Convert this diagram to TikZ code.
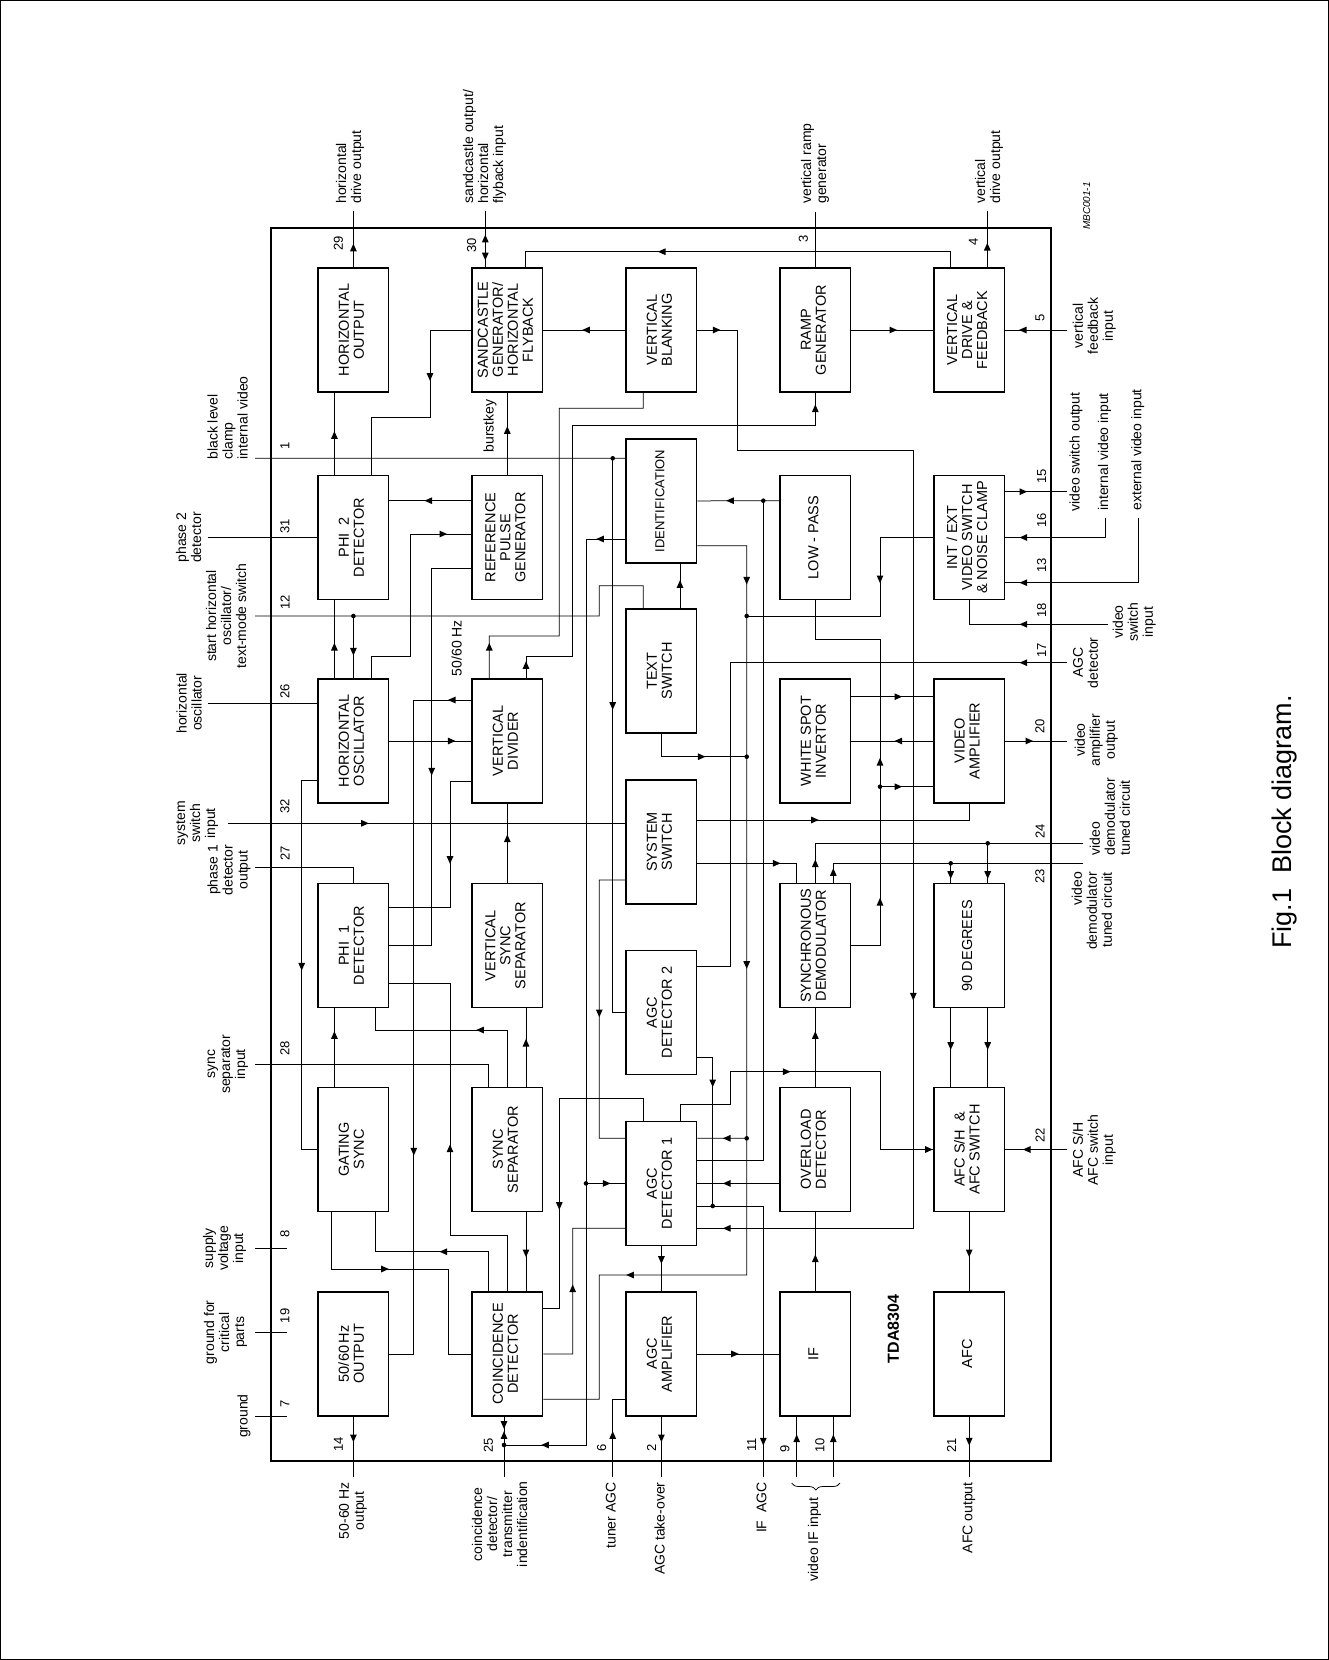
\documentclass[tikz,border=0pt]{standalone}
\usepackage{fontspec}
\setmainfont{Liberation Sans}
\usepackage{graphicx}
\usetikzlibrary{calc,decorations.pathreplacing}

% rotated (bottom-to-top) text block
\newcommand{\vt}[2][c]{\rotatebox{90}{\begin{tabular}{@{}#1@{}}#2\end{tabular}}}
% filled arrow head in the middle of a line: position, direction
\newcommand{\arr}[2]{\fill[shift={#1},rotate=#2] (3.8,0) -- (-3.8,3.4) -- (-3.8,-3.4) -- cycle;}
\newcommand{\jdot}[1]{\fill #1 circle (2.3pt);}

\begin{document}
\begin{tikzpicture}[x=1pt,y=-1pt,line width=0.75pt,
    blk/.style={draw,line width=1.3pt,minimum width=70.6pt,minimum height=124pt,
      inner sep=0pt,font=\fontsize{14.5}{15}\selectfont},
    lbl/.style={inner sep=0pt,font=\fontsize{14}{15}\selectfont},
    pinno/.style={inner sep=0pt,font=\fontsize{13}{15}\selectfont}]
    \useasboundingbox (0,0) rectangle (1329,1660);
    \draw[line width=1pt] (0.5,0.5) rectangle (1328.5,1659.5);
    % IC outline
    \draw[line width=1.6pt] (271,227.7) rectangle (1050.7,1460.7);
    \node[font=\bfseries\fontsize{16}{16}\selectfont] (chip) at (893.3,1329) {\rotatebox{90}{TDA8304}};
    \node[font=\itshape\fontsize{10}{10}\selectfont] (mbc) at (1086.7,206) {\rotatebox{90}{MBC001-1}};
    \node[font=\fontsize{27}{27}\selectfont] (caption) at (1285,822) {\rotatebox{90}{Fig.1\ \ Block diagram.}};

    % blocks, column 1
    \node[blk] (hout) at (353.4,330) {\vt{HORIZONTAL\\OUTPUT}};
    \node[blk] (phitwo) at (353.4,537.5) {\vt{PHI\ \ 2\\DETECTOR}};
    \node[blk] (hosc) at (353.4,741) {\vt{HORIZONTAL\\OSCILLATOR}};
    \node[blk] (phione) at (353.4,945.7) {\vt{PHI\ \ 1\\DETECTOR}};
    \node[blk] (gsync) at (353.4,1149.5) {\vt{GATING\\SYNC}};
    \node[blk] (hzout) at (353.4,1353.9) {\vt{50/60\,Hz\\OUTPUT}};
    % column 2
    \node[blk] (sand) at (507.3,330) {\vt{SANDCASTLE\\GENERATOR/\\HORIZONTAL\\FLYBACK}};
    \node[blk] (refp) at (507.3,537.5) {\vt{REFERENCE\\PULSE\\GENERATOR}};
    \node[blk] (vdiv) at (507.3,741) {\vt{VERTICAL\\DIVIDER}};
    \node[blk] (vsync) at (507.3,945.7) {\vt{VERTICAL\\SYNC\\SEPARATOR}};
    \node[blk] (ssep) at (507.3,1149.5) {\vt{SYNC\\SEPARATOR}};
    \node[blk] (coinc) at (507.3,1353.9) {\vt{COINCIDENCE\\DETECTOR}};
    % column 3
    \node[blk] (vblank) at (661.4,330) {\vt{VERTICAL\\BLANKING}};
    \node[blk,font=\fontsize{13}{15}\selectfont] (ident) at (661.4,500.9) {\vt{IDENTIFICATION}};
    \node[blk] (txtsw) at (661.4,671) {\vt{TEXT\\SWITCH}};
    \node[blk] (syssw) at (661.4,842) {\vt{SYSTEM\\SWITCH}};
    \node[blk] (agctwo) at (661.4,1012.4) {\vt{AGC\\DETECTOR 2}};
    \node[blk] (agcone) at (661.4,1183.4) {\vt{AGC\\DETECTOR 1}};
    \node[blk] (agcamp) at (661.4,1353.9) {\vt{AGC\\AMPLIFIER}};
    % column 4
    \node[blk] (ramp) at (815.3,330) {\vt{RAMP\\GENERATOR}};
    \node[blk] (lowp) at (815.3,537.5) {\vt{LOW - PASS}};
    \node[blk] (wspot) at (815.3,741) {\vt{WHITE SPOT\\INVERTOR}};
    \node[blk] (sdem) at (815.3,945.7) {\vt{SYNCHRONOUS\\DEMODULATOR}};
    \node[blk] (ovl) at (815.3,1149.5) {\vt{OVERLOAD\\DETECTOR}};
    \node[blk] (ifb) at (815.3,1353.9) {\vt{IF}};
    % column 5
    \node[blk] (vdrv) at (969.2,330) {\vt{VERTICAL\\DRIVE \&\\FEEDBACK}};
    \node[blk] (vsw) at (969.2,537.5) {\vt{INT / EXT\\VIDEO SWITCH\\\& NOISE CLAMP}};
    \node[blk] (vamp) at (969.2,741) {\vt{VIDEO\\AMPLIFIER}};
    \node[blk] (ninety) at (969.2,945.7) {\vt{90 DEGREES}};
    \node[blk] (afcsh) at (969.2,1149.5) {\vt{AFC S/H\ \ \&\\AFC SWITCH}};
    \node[blk] (afc) at (969.2,1353.9) {\vt{AFC}};

    % pin numbers
    \foreach \n/\x/\y in {29/338.3/243, 30/471.7/245, 3/803.3/239, 4/973.3/241.7,
        5/1040/318.3, 1/285/445.8, 31/285/526.7, 12/285/602.5, 26/285/691.7,
        32/285/806.7, 27/285/853.3, 28/285/1048.3, 8/285/1234, 19/285/1315.8,
        7/285/1404, 14/338.3/1444, 25/488.3/1445, 6/601.7/1447.5, 2/651.7/1447.5,
        11/751.7/1445, 9/785/1449, 10/820/1445, 21/951.7/1445, 15/1041.7/476.7,
        16/1041.7/520, 13/1041.7/565, 18/1041.7/610, 17/1041.7/650, 20/1040/726.7,
        24/1040/831.7, 23/1040/876.7, 22/1040/1135}
        \node[pinno] (n\n) at (\x,\y) {\rotatebox{90}{\n}};

    % pin labels, top
    \node[lbl,anchor=south] (l29) at (350.5,204) {\vt[l]{horizontal\\drive output}};
    \node[lbl,anchor=south] (l30) at (485,204) {\vt[l]{sandcastle output/\\horizontal\\flyback input}};
    \node[lbl,anchor=south] (l3) at (815.5,204) {\vt[l]{vertical ramp\\generator}};
    \node[lbl,anchor=south] (l4) at (989.5,204) {\vt[l]{vertical\\drive output}};
    % pin labels, left
    \node[lbl,anchor=south east] (l1) at (252.5,460) {\vt[l]{black level\\clamp\\internal video}};
    \node[lbl,anchor=east] (l31) at (206,537.5) {\vt{phase 2\\detector}};
    \node[lbl,anchor=east] (l12) at (251,616) {\vt{start horizontal\\oscillator/\\text-mode switch}};
    \node[lbl,anchor=east] (l26) at (206.5,703.3) {\vt{horizontal\\oscillator}};
    \node[lbl,anchor=east] (l32) at (220,823.3) {\vt{system\\switch\\input}};
    \node[lbl,anchor=east] (l27) at (252.5,870) {\vt{phase 1\\detector\\output}};
    \node[lbl,anchor=east] (l28) at (250,1064.3) {\vt{sync\\separator\\input}};
    \node[lbl,anchor=east] (l8) at (248,1248.3) {\vt{supply\\voltage\\input}};
    \node[lbl,anchor=east] (l19) at (249,1332.3) {\vt{ground for\\critical\\parts}};
    \node[lbl,anchor=east] (l7) at (252.5,1416) {\vt{ground}};
    % pin labels, right
    \node[lbl,anchor=west] (l5) at (1072,326) {\vt{vertical\\feedback\\input}};
    \node[lbl,anchor=south] (l15) at (1076.7,512) {\vt{video switch output}};
    \node[lbl,anchor=south] (l16) at (1105,511) {\vt{internal video input}};
    \node[lbl,anchor=south] (l13) at (1138.3,511) {\vt{external video input}};
    \node[lbl,anchor=west] (l18) at (1112,622) {\vt{video\\switch\\input}};
    \node[lbl,anchor=west] (l17) at (1072,662.7) {\vt{AGC\\detector}};
    \node[lbl,anchor=west] (l20) at (1074,740) {\vt{video\\amplifier\\output}};
    \node[lbl,anchor=south west] (l24) at (1089,856) {\vt[l]{video\\demodulator\\tuned circuit}};
    \node[lbl,anchor=north west] (l23) at (1071,871.7) {\vt[r]{video\\demodulator\\tuned circuit}};
    \node[lbl,anchor=west] (l22) at (1072,1150) {\vt{AFC S/H\\AFC switch\\input}};
    % pin labels, bottom
    \node[lbl,anchor=north] (l14) at (353.3,1482) {\vt{50-60 Hz\\output}};
    \node[lbl,anchor=north] (l25) at (501.5,1481) {\vt{coincidence\\detector/\\transmitter\\indentification}};
    \node[lbl,anchor=north] (l6) at (612.7,1482) {\vt{tuner AGC}};
    \node[lbl,anchor=north] (l2) at (661.7,1482) {\vt{AGC take-over}};
    \node[lbl,anchor=north] (l11) at (763.3,1482) {\vt{IF\ \ AGC}};
    \node[lbl,anchor=north] (l910) at (815,1497) {\vt{video IF input}};
    \node[lbl,anchor=north] (l21) at (969.3,1482) {\vt{AFC output}};
    % inner labels
    \node[lbl] (burst) at (490,426) {\rotatebox{90}{burstkey}};
    \node[lbl] (hz) at (456.7,648) {\rotatebox{90}{50/60 Hz}};

    % pin end points
    \coordinate (p29) at (353.4,211);
    \coordinate (p30) at (485.3,211);
    \coordinate (p3) at (815.3,211.7);
    \coordinate (p4) at (987.3,211);
    \coordinate (p5) at (1067.3,330);
    \coordinate (p1) at (255,458.3);
    \coordinate (p31) at (208.3,537.5);
    \coordinate (p12) at (255,616);
    \coordinate (p26) at (208.3,703.3);
    \coordinate (p32) at (228.3,823.3);
    \coordinate (p27) at (255,867.3);
    \coordinate (p28) at (255,1064.3);
    \coordinate (p15) at (1067.3,491.7);
    \coordinate (p16) at (1105,518.3);
    \coordinate (p13) at (1138.3,518.3);
    \coordinate (p18) at (1108.3,624.3);
    \coordinate (p17) at (1066.7,662.7);
    \coordinate (p20) at (1067.3,741);
    \coordinate (p24) at (1083.3,843.3);
    \coordinate (p23) at (1083.3,863.3);
    \coordinate (p22) at (1067.3,1149.5);
    \coordinate (p14) at (353.4,1476.7);
    \coordinate (p25) at (504,1476.7);
    \coordinate (p6) at (612.7,1476.7);
    \coordinate (p2) at (661.4,1476.7);
    \coordinate (p11) at (763.3,1476.7);
    \coordinate (p9) at (796.7,1476.7);
    \coordinate (p10) at (833.3,1476.7);
    \coordinate (p21) at (969.2,1476.7);

    % top row
    \draw (hout.north) -- (p29); \arr{(353.4,247.5)}{90}
    \draw ($(sand.north)+(-22,0)$) -- (p30); \arr{(485.3,238.5)}{90} \arr{(485.3,256.5)}{-90}
    \draw ($(vdrv.north)+(-18.5,0)$) |- (525,251.7) -- ($(sand.north)+(17.7,0)$); \arr{(661.7,251.7)}{180}
    \draw (ramp.north) -- (p3);
    \draw ($(vdrv.north)+(18.1,0)$) -- (p4); \arr{(987.3,246.7)}{90}
    \draw (p5) -- (vdrv.east); \arr{(1022.7,330)}{180}
    \draw (ramp.east) -- (vdrv.west); \arr{(893.3,330)}{0}
    \draw (vblank.west) -- (sand.east); \arr{(586,330)}{180}
    \draw (vblank.east) -- (737.7,330) |- (913.3,450) |- ($(agcone.east)+(0,44.9)$);
    \arr{(716.7,330)}{0} \arr{(913.3,996.7)}{-90} \arr{(726.7,1228.3)}{180}
    \draw (sand.west) -- (430,330) |- (371.7,417) -- ($(phitwo.north)+(18.3,0)$); \arr{(430,377)}{-90}
    \draw ($(phitwo.north)+(-19,0)$) -- ($(hout.south)+(-19,0)$); \arr{(334.4,435)}{90}
    \draw (refp.north) -- (sand.south); \arr{(507.3,430)}{90}

    % pin 1, 31, 12, 26
    \draw (p1) -- ($(ident.west)+(0,-42.6)$); \jdot{(612.7,458.3)}
    \draw (612.7,458.3) |- (agctwo.west); \arr{(612.7,706)}{-90}
    \draw (p31) -- (phitwo.west);
    \draw (p12) -- (599.3,616) |- (643.3,585.7) -- ($(txtsw.north)+(-18.1,0)$);
    \jdot{(353.4,616)} \draw (353.4,616) -- (hosc.north); \arr{(353.4,651.7)}{-90}
    \draw (p26) -- ($(hosc.west)+(0,-37.7)$);

    % phase detectors and oscillator
    \draw ($(refp.west)+(0,-36.8)$) -- ($(phitwo.east)+(0,-36.8)$); \arr{(428.3,500.7)}{180}
    \draw ($(hosc.north)+(18.3,0)$) |- (410,656.7) |- ($(refp.west)+(0,-3.5)$); \arr{(443.3,534)}{0}
    \draw ($(refp.west)+(0,30.8)$) -| (431.7,945.7) -- (phione.east); \arr{(431.7,771.7)}{-90}
    \draw ($(hosc.north)+(-19,0)$) -- ($(phitwo.south)+(-19,0)$); \arr{(334.4,646.7)}{90}
    \draw (hosc.east) -- (vdiv.west); \arr{(451.7,741)}{0}
    \draw ($(vdiv.west)+(0,-41)$) -| (413.8,1353.9) -- (hzout.east); \arr{(451.7,700)}{180} \arr{(413.8,1151.7)}{-90}
    \draw ($(vdiv.west)+(0,40.7)$) -| (450,907.3) -- ($(phione.east)+(0,-38.4)$); \arr{(450,860)}{-90}
    \draw ($(hosc.west)+(0,39)$) -| (301.7,1149.5) -- (gsync.west); \arr{(301.7,966.7)}{-90}
    \draw ($(vdiv.north)+(-18,0)$) |- (559.3,636) |- (643.3,408.3) -- ($(vblank.south)+(-18.1,0)$); \arr{(489.3,646.7)}{90}
    \draw ($(vdiv.north)+(18.7,0)$) |- (572.7,656.7) |- (815.3,425) -- (ramp.south); \arr{(526,665)}{90} \arr{(815.3,408.3)}{90}

    % identification, text switch, low-pass
    \draw ($(ident.west)+(0,38.1)$) -| (586,1445) -- (504,1445); \arr{(600,539)}{180} \arr{(545,1445)}{180}
    \jdot{(586,1183.4)} \draw (586,1183.4) -- (agcone.west); \arr{(606.7,1183.4)}{0}
    \draw ($(lowp.west)+(0,-36.8)$) -- (ident.east); \arr{(730,500.7)}{180}
    \jdot{(763.3,500.7)} \draw (763.3,500.7) |- ($(agcone.east)+(0,-23.4)$);
    \draw ($(ident.east)+(0,44.8)$) -| (746.7,1275) -| (599.3,1399.3) -- ($(coinc.east)+(0,45.4)$);
    \arr{(746.7,580.7)}{-90} \arr{(746.7,965)}{-90} \arr{(630,1275)}{180}
    \jdot{(746.7,616)} \jdot{(746.7,756.7)} \jdot{(746.7,1138.3)}
    \draw (746.7,1138.3) -- ($(agcone.east)+(0,-45.1)$); \arr{(726.7,1138.3)}{180}
    \draw (vsw.west) -| (880,616) -- (746.7,616); \arr{(880,579.3)}{-90}
    \draw ($(txtsw.north)+(18.6,0)$) -- ($(ident.south)+(18.6,0)$); \arr{(680,584)}{90}
    \draw (txtsw.south) |- (746.7,756.7); \arr{(701.7,756.7)}{0}
    \draw (p17) -| (730,966.7) -- ($(agctwo.east)+(0,-45.7)$); \arr{(1023.3,662.7)}{180}

    % video path
    \draw (lowp.south) |- (880,639.3) |- (sdem.east); \arr{(880,761.7)}{90} \arr{(880,901.7)}{90}
    \jdot{(880,786.7)} \draw (880,786.7) -- ($(vamp.west)+(0,45.7)$); \arr{(898.3,786.7)}{0}
    \draw ($(wspot.east)+(0,-44.3)$) -- ($(vamp.west)+(0,-44.3)$); \arr{(898.3,696.7)}{0}
    \draw (vamp.west) -- (wspot.east); \arr{(898.3,741)}{180}
    \draw (vamp.east) -- (p20); \arr{(1029.3,741)}{0}
    \draw ($(vsw.east)+(0,-45.8)$) -- (p15); \arr{(1023.3,491.7)}{0}
    \draw (p16) |- (vsw.east); \arr{(1023.3,537.5)}{180}
    \draw (p13) |- ($(vsw.east)+(0,45.2)$); \arr{(1023.3,582.7)}{180}
    \draw (p18) -| (vsw.south); \arr{(1023.3,624.3)}{180}

    % system switch
    \draw (p32) -- ($(syssw.west)+(0,-18.7)$); \arr{(365,823.3)}{0}
    \draw (vsync.north) -- (vdiv.south); \arr{(507.3,838.3)}{90}
    \draw ($(syssw.east)+(0,-22)$) -| (vamp.south); \arr{(815,820)}{0}
    \draw ($(syssw.east)+(0,21.3)$) -| ($(sdem.north)+(-18.6,0)$); \arr{(776.7,863.3)}{0}
    \draw ($(syssw.west)+(0,38)$) -| (599.3,1138.3) -- ($(agcone.west)+(0,-45.1)$); \arr{(599.3,1013.3)}{-90}

    % sync part
    \draw (p27) -| (phione.north);
    \draw ($(phione.east)+(0,37.6)$) -| (450,1235) -| (coinc.north); \arr{(450,1148.3)}{90}
    \draw ($(phione.south)+(21.6,0)$) |- (507.3,1030) -- (ssep.north); \arr{(480,1030)}{180}
    \draw ($(gsync.north)+(-19,0)$) -- ($(phione.south)+(-19,0)$); \arr{(334.4,1035)}{90}
    \draw (p28) -| ($(ssep.north)+(-19,0)$);
    \draw ($(ssep.north)+(18.7,0)$) -- ($(vsync.south)+(18.7,0)$); \arr{(526,1042.7)}{90}
    \draw ($(ssep.south)+(18.7,0)$) -- ($(coinc.north)+(18.7,0)$); \arr{(526,1253.3)}{-90}
    \draw ($(gsync.south)+(-21.7,0)$) |- (448.3,1269) |- (coinc.west); \arr{(385,1269)}{0}
    \draw ($(gsync.south)+(21.6,0)$) |- (488.3,1251.7) -- ($(coinc.north)+(-19,0)$); \arr{(443.3,1251.7)}{180}
    \draw (coinc.east) -| (572.7,1228.3) -- ($(agcone.west)+(0,44.9)$); \arr{(572.7,1288.3)}{90}

    % AGC part
    \draw ($(agctwo.east)+(0,44.9)$) -| (712.7,1206); \arr{(712.7,1083.3)}{-90} \jdot{(712.7,1206)}
    \draw ($(agcone.east)+(0,22.6)$) -| (p11); \arr{(763.3,1441.7)}{-90}
    \draw ($(agcone.north)+(-18.1,0)$) |- (559.3,1098.3) |- ($(coinc.east)+(0,-45.6)$); \arr{(559.3,1206)}{-90}
    \draw ($(agcone.north)+(18.6,0)$) |- (730,1104) |- (880,1071.7) |- (afcsh.west);
    \arr{(786.7,1071.7)}{0} \arr{(929,1149.5)}{0}
    \draw ($(ovl.west)+(0,33.9)$) -- (agcone.east); \arr{(726.7,1183.4)}{180}
    \draw (agcone.south) -- (agcamp.north); \arr{(661.4,1260)}{-90}
    \draw (agcamp.east) -- (ifb.west); \arr{(735,1353.9)}{0}
    \draw (p6) |- ($(agcamp.west)+(0,45.4)$); \arr{(612.7,1435)}{90}
    \draw (agcamp.south) -- (p2); \arr{(661.4,1438.3)}{-90}

    % demodulator and AFC
    \draw (p24) -| (sdem.north); \arr{(815.3,863.3)}{90}
    \jdot{(987.7,843.3)} \draw (987.7,843.3) -- ($(ninety.north)+(18.5,0)$); \arr{(987.7,875)}{-90}
    \draw (p23) -| ($(sdem.north)+(18,0)$); \arr{(833.3,872)}{90}
    \jdot{(950.7,863.3)} \draw (950.7,863.3) -- ($(ninety.north)+(-18.5,0)$); \arr{(950.7,875)}{-90}
    \draw ($(ninety.south)+(-18.5,0)$) -- ($(afcsh.north)+(-18.5,0)$); \arr{(950.7,1046)}{-90}
    \draw ($(ninety.south)+(18.5,0)$) -- ($(afcsh.north)+(18.5,0)$); \arr{(987.7,1046)}{-90}
    \draw (ovl.north) -- (sdem.south); \arr{(815.3,1035)}{90}
    \draw (ifb.north) -- (ovl.south); \arr{(815.3,1258.3)}{90}
    \draw (p22) -- (afcsh.east); \arr{(1026.7,1149.5)}{180}
    \draw (afcsh.south) -- (afc.north); \arr{(969.2,1253.3)}{-90}
    \draw (afc.south) -- (p21); \arr{(969.2,1441.7)}{-90}
    \draw (p9) -- ($(ifb.south)+(-18.6,0)$); \arr{(796.7,1438.3)}{90}
    \draw (p10) -- ($(ifb.south)+(18,0)$); \arr{(833.3,1438.3)}{90}
    \draw[decorate,decoration={brace,amplitude=7pt,mirror}] (791.7,1483) -- (840,1483);

    % outputs at the bottom
    \draw (hzout.south) -- (p14); \arr{(353.4,1438.3)}{-90}
    \draw ($(coinc.south)+(-3.3,0)$) -- (p25); \arr{(504,1425)}{-90} \arr{(504,1435)}{90} \jdot{(504,1445)}
    \foreach \y in {1248.3,1332.3,1416}
        \draw (255,\y) -- (287.3,\y);
\end{tikzpicture}
\end{document}
